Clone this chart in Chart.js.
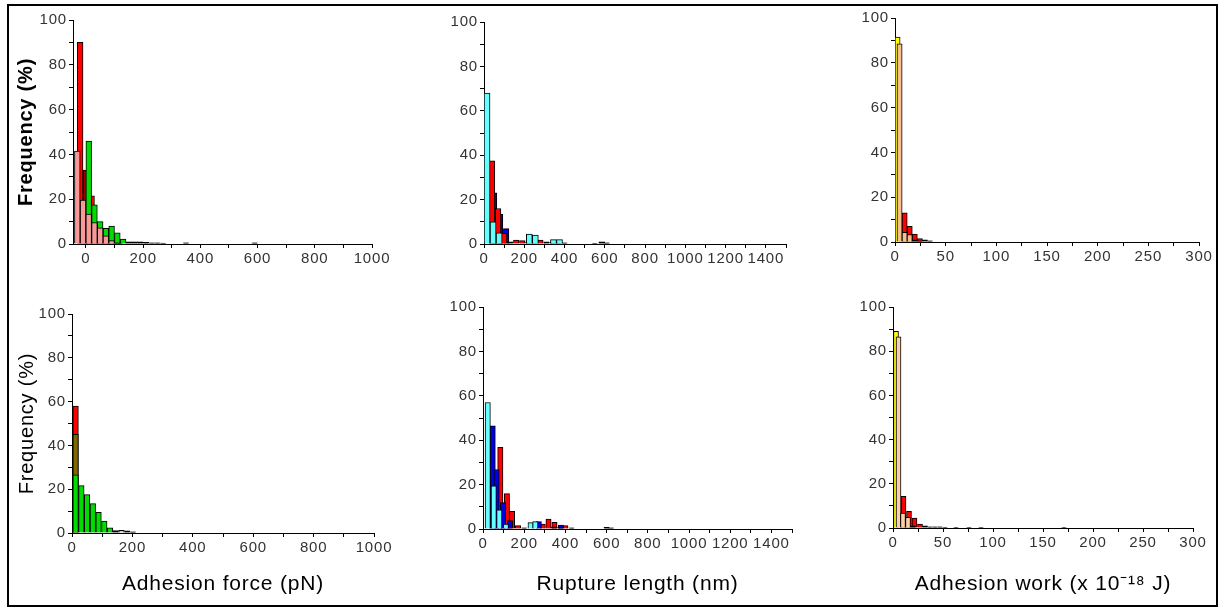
<!DOCTYPE html>
<html>
<head>
<meta charset="utf-8">
<script src="https://cdn.jsdelivr.net/npm/chart.js@4.4.1/dist/chart.umd.min.js"></script>
<style>
  html, body { margin: 0; padding: 0; background: #fff; }
  body { width: 1219px; height: 608px; position: relative; overflow: hidden; }
  .frame { position: absolute; left: 7px; top: 4px; width: 1207px; height: 599px; border: 2px solid #000; }
  canvas { position: absolute; }
</style>
</head>
<body>
<div class="frame"></div>
<canvas id="forceTop"></canvas>
<canvas id="ruptureTop"></canvas>
<canvas id="workTop"></canvas>
<canvas id="forceBottom"></canvas>
<canvas id="ruptureBottom"></canvas>
<canvas id="workBottom"></canvas>
<script>
// ---- axis ticks ----
const freqTicks = [0, 10, 20, 30, 40, 50, 60, 70, 80, 90, 100];
const freqLabels = [0, 20, 40, 60, 80, 100];
const forceTicks = [0, 100, 200, 300, 400, 500, 600, 700, 800, 900, 1000];
const forceLabels = [0, 200, 400, 600, 800, 1000];
const ruptureTicks = [0, 100, 200, 300, 400, 500, 600, 700, 800, 900, 1000, 1100, 1200, 1300, 1400, 1500];
const ruptureLabels = [0, 200, 400, 600, 800, 1000, 1200, 1400];
const workTicks = [0, 25, 50, 75, 100, 125, 150, 175, 200, 225, 250, 275, 300];
const workLabels = [0, 50, 100, 150, 200, 250, 300];

// ---- adhesion force, top ----
const forceTopPinkX = [-30, -10, 10, 30, 50, 70, 90, 110];
const forceTopPinkY = [41.5, 19.6, 13.4, 9.6, 7.2, 3.6, 1.5, 0.5];
const forceTopGreenX = [10, 30, 50, 70, 90, 110, 130, 150, 170, 190, 210, 230, 250, 270, 350, 590];
const forceTopGreenY = [46, 17.5, 10, 7, 8, 5, 2.2, 1, 1, 1, 0.8, 0.5, 0.5, 0.4, 0.5, 0.5];
const forceTopRedX = [-20, 0, 20, 40, 60, 80, 100, 120];
const forceTopRedY = [90, 33, 21.5, 8, 4, 2, 1, 0.5];

// ---- rupture length, top ----
const ruptureTopCyanX = [15, 45, 75, 225, 255, 345, 375, 585];
const ruptureTopCyanY = [68, 10, 5, 4.5, 4, 2, 2, 1];
const ruptureTopRedX = [40, 70, 100, 130, 160, 190, 220, 250, 280, 310, 340, 370, 400, 550, 610];
const ruptureTopRedY = [37.5, 16, 4.8, 1, 1.8, 1.5, 1, 1, 1.8, 1, 0.8, 0.8, 0.5, 0.3, 0.5];
const ruptureTopBlueX = [50, 80, 110];
const ruptureTopBlueY = [23, 13.5, 6.9];

// ---- adhesion work, top ----
const workTopYellowX = [2.5];
const workTopYellowY = [91.5];
const workTopPeachX = [4.5, 9.5, 14.5, 19.5, 24.5];
const workTopPeachY = [88.5, 4.3, 3.3, 1, 0.5];
const workTopRedX = [9.5, 14.5, 19.5, 24.5, 29.5, 34.5];
const workTopRedY = [13, 7, 3.5, 1.5, 1, 0.5];

// ---- adhesion force, bottom ----
const forceBotGreenX = [12, 31, 50, 69, 88, 107, 126, 145, 183, 202];
const forceBotGreenY = [26.6, 21.6, 17.5, 13.4, 9.4, 5.5, 2.4, 1.1, 1, 0.5];
const forceBotGreyX = [164];
const forceBotGreyY = [1.2];
const forceBotOliveX = [12];
const forceBotOliveY = [45];
const forceBotRedX = [12];
const forceBotRedY = [58];

// ---- rupture length, bottom ----
const ruptureBotCyanX = [23, 52, 79, 111, 231, 254, 345, 375];
const ruptureBotCyanY = [57, 19.5, 8.6, 2.2, 2.9, 3.3, 1, 0.8];
const ruptureBotBlueX = [47, 66, 97, 131, 271, 378, 600];
const ruptureBotBlueY = [46.5, 26.8, 11.9, 3.8, 3.3, 1.8, 0.8];
const ruptureBotRedX = [84, 116, 141, 170, 200, 290, 318, 347, 400, 430, 622];
const ruptureBotRedY = [36.8, 15.9, 8, 1.5, 0.5, 2.2, 4.5, 3, 1.5, 0.5, 0.5];

// ---- adhesion work, bottom ----
const workBotYellowX = [3];
const workBotYellowY = [89];
const workBotPeachX = [5.5, 10, 15, 20];
const workBotPeachY = [86.5, 6.8, 4.8, 1];
const workBotRedX = [10.5, 16, 21.5, 27, 32, 37, 42, 47, 52, 63, 76, 88, 171];
const workBotRedY = [14.3, 7.5, 4.5, 1.8, 1, 0.5, 0.5, 0.5, 0.3, 0.3, 0.3, 0.3, 0.3];

Chart.defaults.font.family = '"Liberation Sans", Arial, sans-serif';

const letterSpacing = {
  id: 'letterSpacing',
  beforeUpdate(chart, args, opts) { chart.ctx.letterSpacing = opts.value || '0px'; },
  beforeDraw(chart, args, opts) { chart.ctx.letterSpacing = opts.value || '0px'; }
};

// tiny tail bars read as black outlines in the original
function tailColor(color) {
  return ctx => (ctx.raw && ctx.raw.y < 1.2) ? '#000' : color;
}

// first dataset in the list is drawn in front
function bars(xs, ys, color, width) {
  return {
    data: xs.map((x, i) => ({ x: x, y: ys[i] })),
    backgroundColor: tailColor(color),
    borderColor: '#000',
    borderWidth: 1,
    barThickness: width,
    grouped: false
  };
}

function panel(id, rect, plot, xMin, xMax, xTicks, xLabels, datasets, yTitle, xTitle) {
  const el = document.getElementById(id);
  el.width = rect.right - rect.left;
  el.height = rect.bottom - rect.top;
  el.style.left = rect.left + 'px';
  el.style.top = rect.top + 'px';

  const gridOpts = { display: true, drawOnChartArea: false, drawTicks: true, tickLength: 4, color: '#000', offset: false };

  new Chart(el, {
    type: 'bar',
    data: { datasets: datasets },
    plugins: [letterSpacing],
    options: {
      responsive: false,
      animation: false,
      devicePixelRatio: 1,
      layout: { padding: { left: 0, top: plot.top - rect.top, right: rect.right - plot.right, bottom: 0 } },
      plugins: {
        legend: { display: false },
        tooltip: { enabled: false },
        letterSpacing: { value: '0.8px' }
      },
      scales: {
        x: {
          type: 'linear',
          min: xMin,
          max: xMax,
          offset: false,
          grid: gridOpts,
          border: { display: true, color: '#000', width: 1 },
          ticks: {
            autoSkip: false, maxRotation: 0, padding: 2, color: '#333', font: { size: 15 },
            callback: v => xLabels.includes(v) ? String(v) : ''
          },
          afterBuildTicks: s => { s.ticks = xTicks.map(v => ({ value: v })); },
          afterFit: s => { s.height = rect.bottom - plot.bottom; s.paddingLeft = 0; s.paddingRight = 0; },
          title: xTitle ? { display: true, text: xTitle, color: '#000', font: { size: 21 }, padding: { top: 0, bottom: 7 } } : { display: false }
        },
        y: {
          min: 0,
          max: 100,
          grid: gridOpts,
          border: { display: true, color: '#000', width: 1 },
          ticks: {
            autoSkip: false, padding: 2, color: '#333', font: { size: 15 },
            callback: v => freqLabels.includes(v) ? String(v) : ''
          },
          afterBuildTicks: s => { s.ticks = freqTicks.map(v => ({ value: v })); },
          afterFit: s => { s.width = plot.left - rect.left; s.paddingTop = 0; s.paddingBottom = 0; },
          title: yTitle ? { display: true, text: yTitle.text, color: '#000', font: { size: 20, weight: yTitle.weight }, padding: { top: yTitle.pad, bottom: 0 } } : { display: false }
        }
      }
    }
  });
}

const forceTopRed = bars(forceTopRedX, forceTopRedY, '#ff0000', 5.7);
// the second red bar sits in a narrow gap and reads as dark red
forceTopRed.backgroundColor = ctx => ctx.dataIndex === 1 ? '#9a0000' : (ctx.raw && ctx.raw.y < 1.2 ? '#000' : '#ff0000');

panel('forceTop', { left: 9, right: 405, top: 4, bottom: 290 }, { left: 73, right: 372, top: 20, bottom: 244 },
  -45, 1000, forceTicks, forceLabels, [
    bars(forceTopPinkX, forceTopPinkY, '#f89898', 5.7),
    bars(forceTopGreenX, forceTopGreenY, '#00dc00', 5.7),
    forceTopRed
  ], { text: 'Frequency (%)', weight: 'bold', pad: 5 }, null);

panel('ruptureTop', { left: 405, right: 810, top: 4, bottom: 290 }, { left: 484, right: 786, top: 22, bottom: 244 },
  0, 1500, ruptureTicks, ruptureLabels, [
    bars(ruptureTopCyanX, ruptureTopCyanY, '#66ffff', 6),
    bars(ruptureTopRedX, ruptureTopRedY, '#ff0000', 5.5),
    bars(ruptureTopBlueX, ruptureTopBlueY, '#0000e0', 5.5)
  ], null, null);

panel('workTop', { left: 810, right: 1216, top: 4, bottom: 290 }, { left: 895, right: 1199, top: 18, bottom: 242 },
  0, 300, workTicks, workLabels, [
    bars(workTopPeachX, workTopPeachY, '#f9c08f', 5.2),
    bars(workTopYellowX, workTopYellowY, '#ffff00', 5.2),
    bars(workTopRedX, workTopRedY, '#ff0000', 5.2)
  ], null, null);

panel('forceBottom', { left: 9, right: 405, top: 290, bottom: 604 }, { left: 72, right: 374, top: 314, bottom: 533 },
  0, 1000, forceTicks, forceLabels, [
    bars(forceBotGreenX, forceBotGreenY, '#00dc00', 5.5),
    bars(forceBotGreyX, forceBotGreyY, '#c8c8c8', 5.5),
    bars(forceBotOliveX, forceBotOliveY, '#806800', 5.5),
    bars(forceBotRedX, forceBotRedY, '#ff0000', 5.5)
  ], { text: 'Frequency (%)', weight: 'normal', pad: 6 }, 'Adhesion force (pN)');

panel('ruptureBottom', { left: 405, right: 810, top: 290, bottom: 604 }, { left: 483, right: 792, top: 307, bottom: 529 },
  0, 1500, ruptureTicks, ruptureLabels, [
    bars(ruptureBotCyanX, ruptureBotCyanY, '#66ffff', 5.3),
    bars(ruptureBotBlueX, ruptureBotBlueY, '#0000e0', 5.3),
    bars(ruptureBotRedX, ruptureBotRedY, '#ff0000', 5.3)
  ], null, 'Rupture length (nm)');

panel('workBottom', { left: 810, right: 1216, top: 290, bottom: 604 }, { left: 893, right: 1193, top: 307, bottom: 528 },
  0, 300, workTicks, workLabels, [
    bars(workBotPeachX, workBotPeachY, '#fccfa8', 5),
    bars(workBotYellowX, workBotYellowY, '#ffff00', 5),
    bars(workBotRedX, workBotRedY, '#ff0000', 5)
  ], null, 'Adhesion work (x 10\u207B\u00B9\u2078 J)');
</script>
</body>
</html>
